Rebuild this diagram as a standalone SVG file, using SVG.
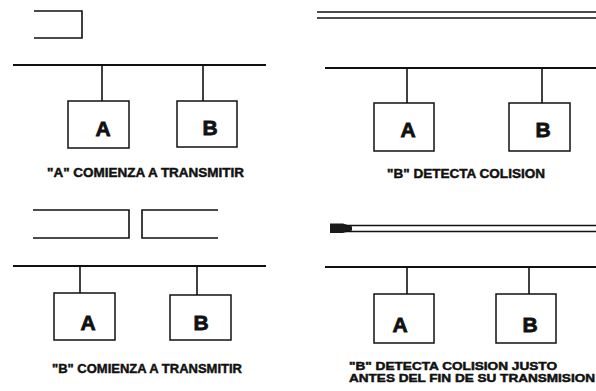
<svg xmlns="http://www.w3.org/2000/svg" width="596" height="391" viewBox="0 0 596 391">
<style>
.ln{stroke:#111;stroke-width:1.6;fill:none}
.bus{stroke:#111;stroke-width:1.8;fill:none}
.box{stroke:#111;stroke-width:1.5;fill:#fff}
.lbl{font-family:"Liberation Sans",Arial,sans-serif;font-weight:bold;font-size:21px;fill:#111;stroke:#111;stroke-width:0.8;text-anchor:middle}
.cap{font-family:"Liberation Sans",Arial,sans-serif;font-weight:bold;font-size:13px;fill:#111;stroke:#111;stroke-width:0.45}
.cap2{font-family:"Liberation Sans",Arial,sans-serif;font-weight:bold;font-size:10.5px;fill:#111;stroke:#111;stroke-width:0.45}
</style>
<rect width="596" height="391" fill="#fff"/>
<g id="connectors">
  <path class="ln" d="M34,11 H82 V38 H34"/>
  <line class="bus" x1="13" y1="65" x2="266" y2="65"/>
  <line class="ln" x1="102" y1="65" x2="102" y2="101"/>
  <line class="ln" x1="203" y1="65" x2="203" y2="101"/>
  <line class="ln" x1="317" y1="12" x2="596" y2="12"/>
  <line class="ln" x1="317" y1="18" x2="596" y2="18"/>
  <line class="bus" x1="325" y1="68" x2="596" y2="68"/>
  <line class="ln" x1="407" y1="68" x2="407" y2="103"/>
  <line class="ln" x1="542" y1="68" x2="542" y2="103"/>
  <path class="ln" d="M33,210 H129 V238 H33"/>
  <path class="ln" d="M218,210 H142 V238 H218"/>
  <line class="bus" x1="13" y1="266" x2="266" y2="266"/>
  <line class="ln" x1="80" y1="266" x2="80" y2="293"/>
  <line class="ln" x1="197" y1="266" x2="197" y2="295"/>
  <path d="M330,223.5 L343,223.5 L352,226.5 L352,230.5 L343,233 L330,233 Z" fill="#1a1a1a"/>
  <line class="ln" x1="345" y1="225.5" x2="596" y2="225.5"/>
  <line class="ln" x1="345" y1="231.5" x2="596" y2="231.5"/>
  <line class="bus" x1="325" y1="267" x2="596" y2="267"/>
  <line class="ln" x1="407" y1="267" x2="407" y2="294"/>
  <line class="ln" x1="529" y1="267" x2="529" y2="294"/>
</g>
<g id="p1-A"><rect class="box" x="68" y="101" width="61" height="47"/><text class="lbl" x="103" y="136">A</text></g>
<g id="p1-B"><rect class="box" x="177" y="101" width="60" height="46"/><text class="lbl" x="210" y="135">B</text></g>
<g id="p2-A"><rect class="box" x="374" y="103" width="60" height="48"/><text class="lbl" x="408" y="137">A</text></g>
<g id="p2-B"><rect class="box" x="509" y="103" width="61" height="48"/><text class="lbl" x="543" y="137">B</text></g>
<g id="p3-A"><rect class="box" x="54" y="293" width="61" height="47"/><text class="lbl" x="88" y="330">A</text></g>
<g id="p3-B"><rect class="box" x="170" y="295" width="61" height="45"/><text class="lbl" x="201" y="330">B</text></g>
<g id="p4-A"><rect class="box" x="374" y="294" width="60" height="49"/><text class="lbl" x="400" y="332">A</text></g>
<g id="p4-B"><rect class="box" x="496" y="294" width="60" height="49"/><text class="lbl" x="530" y="332">B</text></g>
<g id="captions">
  <text class="cap" x="47" y="177" textLength="197" lengthAdjust="spacingAndGlyphs">"A" COMIENZA A TRANSMITIR</text>
  <text class="cap" x="387" y="178" textLength="158" lengthAdjust="spacingAndGlyphs">"B" DETECTA COLISION</text>
  <text class="cap" x="52" y="373" textLength="190" lengthAdjust="spacingAndGlyphs">"B" COMIENZA A TRANSMITIR</text>
  <text class="cap2" x="349" y="369.5" textLength="208" lengthAdjust="spacingAndGlyphs">"B" DETECTA COLISION JUSTO</text>
  <text class="cap2" x="349" y="381.5" textLength="246" lengthAdjust="spacingAndGlyphs">ANTES DEL FIN DE SU TRANSMISION</text>
</g>
</svg>
